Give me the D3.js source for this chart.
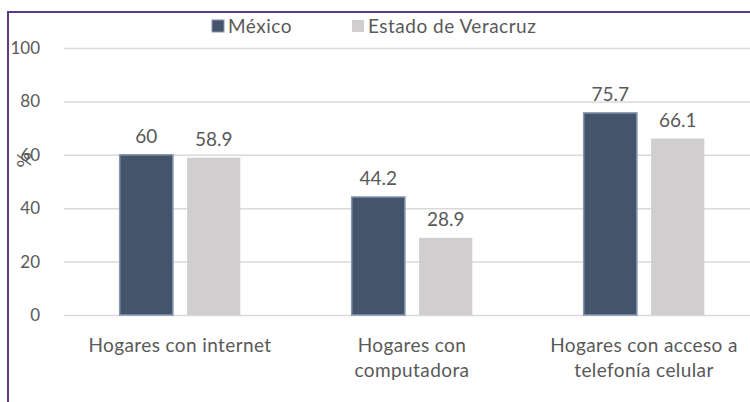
<!DOCTYPE html>
<html>
<head>
<meta charset="utf-8">
<script src="https://d3js.org/d3.v7.min.js"></script>
<style>
  body { margin: 0; background: #fff; }
  text { font-family: Lato, "Open Sans", sans-serif; fill: #595959; }
</style>
</head>
<body>
<div id="chart"></div>
<script>
// data
var categories = [["Hogares con internet"], ["Hogares con", "computadora"], ["Hogares con acceso a", "telefonía celular"]];
var seriesNames = ["México", "Estado de Veracruz"];
var mexico = [60, 44.2, 75.7];
var veracruz = [58.9, 28.9, 66.1];
var yTicks = [0, 20, 40, 60, 80, 100];
var colors = ["#44546a", "#d0cece"];

var W = 750, H = 402;
var margin = {top: 48, left: 64, right: -10, bottom: 87};
var width = W - margin.left - margin.right,
    height = H - margin.top - margin.bottom;

var svg = d3.select("#chart").append("svg")
  .attr("width", W).attr("height", H);

// purple frame
svg.append("rect")
  .attr("x", 8).attr("y", 12)
  .attr("width", 800).attr("height", 450)
  .attr("fill", "none")
  .attr("stroke", "#5b3a87")
  .attr("stroke-width", 2);

var g = svg.append("g")
  .attr("transform", "translate(" + margin.left + "," + margin.top + ")");

var x0 = d3.scaleBand()
  .domain(d3.range(categories.length))
  .range([0, width])
  .paddingInner(0.48).paddingOuter(0.24);
var x1 = d3.scaleBand()
  .domain([0, 1])
  .range([0, x0.bandwidth()])
  .paddingInner(0.21);
var y = d3.scaleLinear().domain([0, 100]).range([height, 0]);

// gridlines
g.append("g")
  .call(d3.axisLeft(y).tickValues(yTicks).tickSize(-width).tickPadding(24))
  .call(function(a) {
    a.select(".domain").remove();
    a.selectAll(".tick line").attr("stroke", "#d9d9d9").attr("stroke-width", 1.5);
    a.selectAll(".tick text").attr("font-size", 17).style("fill", "#595959");
  });

var rows = categories.map(function(c, i) { return [mexico[i], veracruz[i]]; });

var grp = g.selectAll(".grp").data(rows).enter().append("g")
  .attr("transform", function(d, i) { return "translate(" + x0(i) + ",0)"; });

grp.selectAll("rect").data(function(d) { return d; }).enter().append("rect")
  .attr("x", function(d, j) { return x1(j); })
  .attr("y", function(d) { return y(d); })
  .attr("width", x1.bandwidth())
  .attr("height", function(d) { return height - y(d); })
  .attr("fill", function(d, j) { return colors[j]; })
  .attr("stroke", function(d, j) { return j === 0 ? "#8497b0" : "none"; })
  .attr("stroke-width", 1.5);

grp.selectAll(".lbl").data(function(d) { return d; }).enter().append("text")
  .attr("x", function(d, j) { return x1(j) + x1.bandwidth() / 2; })
  .attr("y", function(d) { return y(d) - 12; })
  .attr("text-anchor", "middle")
  .attr("font-size", 19)
  .text(function(d) { return d; });

// category labels
grp.append("text")
  .attr("x", x0.bandwidth() / 2)
  .attr("y", height + 37)
  .attr("text-anchor", "middle")
  .attr("font-size", 19)
  .attr("letter-spacing", 0.4)
  .selectAll("tspan").data(function(d, i) { return categories[i]; }).enter().append("tspan")
  .attr("x", x0.bandwidth() / 2)
  .attr("dy", function(d, k) { return k === 0 ? 0 : 25; })
  .text(function(d) { return d; });

// y title
svg.append("text")
  .attr("transform", "translate(31,160) rotate(-90)")
  .attr("text-anchor", "middle")
  .attr("font-size", 19)
  .text("%");

// legend
var legX = [212, 352];
var leg = svg.selectAll(".leg").data(seriesNames).enter().append("g")
  .attr("transform", function(d, i) { return "translate(" + legX[i] + ",20)"; });
leg.append("rect").attr("width", 12).attr("height", 12)
  .attr("fill", function(d, i) { return colors[i]; })
  .attr("stroke", function(d, i) { return i === 0 ? "#8497b0" : "none"; });
leg.append("text").attr("x", 16).attr("y", 13)
  .attr("font-size", 19)
  .attr("letter-spacing", 0.5)
  .text(function(d) { return d; });
</script>
</body>
</html>
